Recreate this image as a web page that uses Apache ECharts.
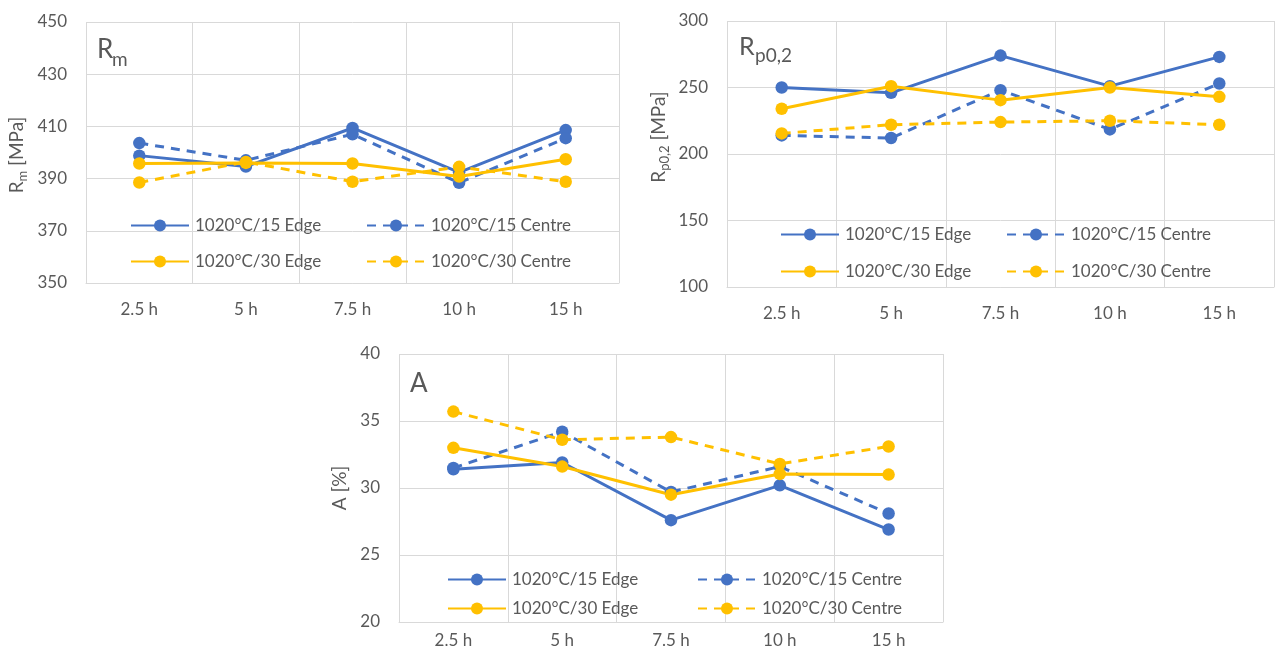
<!DOCTYPE html>
<html>
<head>
<meta charset="utf-8">
<script src="https://cdn.jsdelivr.net/npm/echarts@6/dist/echarts.min.js"></script>
<style>
html,body{margin:0;padding:0;background:#fff;}
#c{width:1275px;height:657px;}
</style>
</head>
<body>
<div id="c"></div>
<script>
// ---- data ----
var categories = ['2.5 h', '5 h', '7.5 h', '10 h', '15 h'];
var seriesNames = ['1020°C/15 Edge', '1020°C/15 Centre', '1020°C/30 Edge', '1020°C/30 Centre'];

var rmEdge15   = [398.8, 394.6, 409.4, 392.4, 408.6];
var rmCentre15 = [403.6, 397.0, 407.0, 388.4, 405.5];
var rmEdge30   = [395.8, 396.0, 395.8, 390.8, 397.4];
var rmCentre30 = [388.5, 396.4, 388.8, 394.5, 388.8];

var rpEdge15   = [250.0, 246.0, 274.0, 251.0, 273.0];
var rpCentre15 = [214.0, 212.0, 248.0, 218.5, 253.0];
var rpEdge30   = [234.0, 251.0, 240.5, 250.0, 243.0];
var rpCentre30 = [215.5, 222.0, 224.0, 225.0, 222.0];

var aEdge15   = [31.4, 31.9, 27.6, 30.2, 26.9];
var aCentre15 = [31.5, 34.2, 29.7, 31.6, 28.1];
var aEdge30   = [33.0, 31.6, 29.5, 31.05, 31.0];
var aCentre30 = [35.7, 33.6, 33.8, 31.8, 33.1];

var rmTicks = {min: 350, max: 450, interval: 20};
var rpTicks = {min: 100, max: 300, interval: 50};
var aTicks  = {min: 20, max: 40, interval: 5};

// ---- styling ----
var FONT = 'Lato';
var TXT = '#595959';
var GRID = '#d9d9d9';
var BLUE = '#4472C4';
var YELLOW = '#FFC000';
var DASH = [9, 7];

var chart = echarts.init(document.getElementById('c'), null, {renderer: 'canvas'});

var grids = [
  {left: 86, top: 22, width: 533, height: 261},
  {left: 727, top: 21, width: 547, height: 266},
  {left: 399, top: 354, width: 544, height: 268}
];

function xAxis(idx, margin) {
  return {
    type: 'category', gridIndex: idx, data: categories, boundaryGap: true,
    axisLine: {show: true, lineStyle: {color: GRID, width: 1}},
    axisTick: {show: false},
    splitLine: {show: true, interval: 0, lineStyle: {color: GRID, width: 1}},
    axisLabel: {color: TXT, fontFamily: FONT, fontSize: 17, margin: margin, interval: 0}
  };
}
function yAxis(idx, t) {
  return {
    type: 'value', gridIndex: idx, min: t.min, max: t.max, interval: t.interval,
    axisLine: {show: false}, axisTick: {show: false},
    splitLine: {show: true, lineStyle: {color: GRID, width: 1}},
    axisLabel: {color: TXT, fontFamily: FONT, fontSize: 17, margin: 19}
  };
}

function line(name, data, color, dashed, idx) {
  return {
    name: name, type: 'line', xAxisIndex: idx, yAxisIndex: idx, data: data,
    symbol: 'circle', symbolSize: 12.5, showSymbol: true,
    lineStyle: {color: color, width: 3, type: dashed ? DASH : 'solid'},
    itemStyle: {color: color},
    emphasis: {disabled: true}, animation: false
  };
}

var series = [
  line(seriesNames[0], rmEdge15, BLUE, false, 0),
  line(seriesNames[1], rmCentre15, BLUE, true, 0),
  line(seriesNames[2], rmEdge30, YELLOW, false, 0),
  line(seriesNames[3], rmCentre30, YELLOW, true, 0),
  line(seriesNames[0], rpEdge15, BLUE, false, 1),
  line(seriesNames[1], rpCentre15, BLUE, true, 1),
  line(seriesNames[2], rpEdge30, YELLOW, false, 1),
  line(seriesNames[3], rpCentre30, YELLOW, true, 1),
  line(seriesNames[0], aEdge15, BLUE, false, 2),
  line(seriesNames[1], aCentre15, BLUE, true, 2),
  line(seriesNames[2], aEdge30, YELLOW, false, 2),
  line(seriesNames[3], aCentre30, YELLOW, true, 2)
];

// legend placement per chart: [col1x, col2x, row1y, row2y]
var legendPos = [
  [130, 366, 226, 262],
  [780, 1006, 235, 272],
  [447, 697, 580, 609]
];
var legends = [];
legendPos.forEach(function (p) {
  var cells = [[p[0], p[2]], [p[1], p[2]], [p[0], p[3]], [p[1], p[3]]];
  seriesNames.forEach(function (n, i) {
    legends.push({
      data: [n], left: cells[i][0], top: cells[i][1] - 9,
      itemWidth: 58, itemHeight: 15, itemGap: 0, padding: 0,
      selectedMode: false,
      textStyle: {color: TXT, fontFamily: FONT, fontSize: 17, padding: [0, 0, 0, 1]}
    });
  });
});

function label(x, y, t, size) {
  return {type: 'text', x: x, y: y, silent: true,
    style: {text: t, fill: TXT, font: size + 'px ' + FONT, verticalAlign: 'middle', align: 'left'}};
}

var nameRich = {
  r: {fill: TXT, font: '19px ' + FONT, verticalAlign: 'top'},
  s: {fill: TXT, font: '13px ' + FONT, lineHeight: 22, verticalAlign: 'bottom'}
};
function axisName(x, y, t) {
  return {type: 'text', x: x, y: y, rotation: Math.PI / 2, silent: true,
    style: {text: t, fill: TXT, font: '19px ' + FONT, align: 'center', verticalAlign: 'middle', rich: nameRich}};
}

chart.setOption({
  animation: false,
  grid: grids,
  xAxis: [xAxis(0, 18), xAxis(1, 18), xAxis(2, 10)],
  yAxis: [yAxis(0, rmTicks), yAxis(1, rpTicks), yAxis(2, aTicks)],
  legend: legends,
  series: series,
  graphic: [
    label(97, 50, 'R', 26), label(112, 60, 'm', 19),
    label(739, 47, 'R', 25), label(755, 56, 'p0,2', 19),
    label(410, 384, 'A', 26),
    axisName(18, 155, '{r|R}{s|m}{r| [MPa]}'),
    axisName(660, 137, '{r|R}{s|p0,2}{r| [MPa]}'),
    axisName(340, 488, '{r|A [%]}')
  ]
});
</script>
</body>
</html>
